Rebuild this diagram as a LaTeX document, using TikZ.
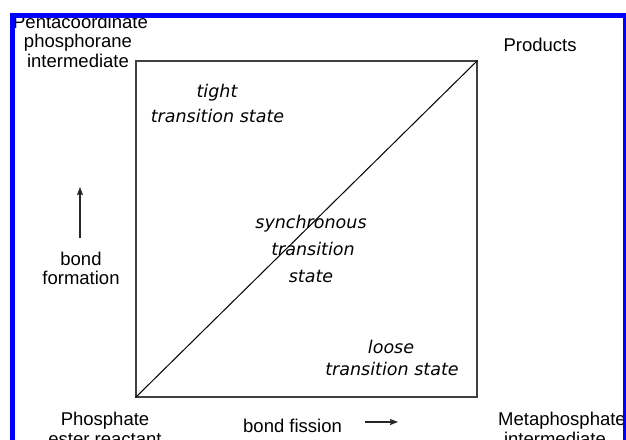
\documentclass[tikz,border=0pt]{standalone}
\usepackage{fontspec}
\setmainfont{Liberation Sans}
\newfontfamily\comicfont{DejaVu Sans}
\usetikzlibrary{arrows.meta}
\begin{document}
\begin{tikzpicture}[x=1pt,y=-1pt,
  lbl/.style={font=\fontsize{18.5}{19.5}\selectfont, anchor=base, inner sep=0pt},
  ts/.style={font=\comicfont\itshape\fontsize{17.5}{20}\selectfont, anchor=base, inner sep=0pt},
  axarrow/.style={draw=black!85, line width=1.2pt, -{Stealth[length=8pt,width=6pt,inset=1pt]}},
  sqbox/.style={draw=black!75, line width=1.2pt, inner sep=0pt, minimum width=341pt, minimum height=336pt},
  frameline/.style={draw=blue, line width=5pt, line join=miter}]
\useasboundingbox (0,0) rectangle (626,439);
\clip (0,0) rectangle (626,439);
\fill[white] (0,0) rectangle (626,439);

\begin{scope}
\clip (15,17.5) rectangle (623,439);
% square and diagonal
\node[sqbox] (sq) at (306.5,229) {};
\draw[black, line width=1pt] (sq.south west) -- (sq.north east);

% corner labels
\node[lbl] (pa) at (80.5,28) {Pentacoordinate};
\node[lbl] (pb) at (78,47.5) {phosphorane};
\node[lbl] (pc) at (78,67) {intermediate};
\node[lbl] (prod) at (540,51) {Products};
\node[lbl] (ra) at (105,425) {Phosphate};
\node[lbl] (rb) at (105,445) {ester reactant};
\node[lbl] (ma) at (562,425) {Metaphosphate};
\node[lbl] (mb) at (555,445) {intermediate};

% axis labels
\node[lbl] (bfa) at (81,265) {bond};
\node[lbl] (bfb) at (81,284) {formation};
\node[lbl, anchor=base west] (fis) at (243,432) {bond fission};
\coordinate (upS) at (80,238);
\coordinate (upE) at (80,187);
\coordinate (rtS) at (365,422);
\coordinate (rtE) at (398,422);
\draw[axarrow] (upS) -- (upE);
\draw[axarrow] (rtS) -- (rtE);

% transition states
\node[ts] (ta) at (217,97) {tight};
\node[ts] (tb) at (217.5,122) {transition state};
\node[ts] (sa) at (311,228) {synchronous};
\node[ts] (sb) at (313,255) {transition};
\node[ts] (sc) at (311,282) {state};
\node[ts] (la) at (391,353) {loose};
\node[ts] (lb) at (392,375) {transition state};
\end{scope}

% blue frame
\draw[frameline] (12.5,445) -- (12.5,15) -- (625,15) -- (625,445);
\end{tikzpicture}
\end{document}
